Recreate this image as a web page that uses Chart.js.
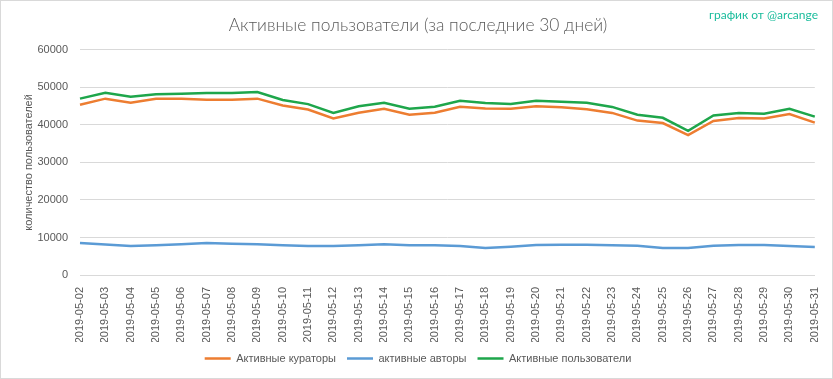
<!DOCTYPE html>
<html>
<head>
<meta charset="utf-8">
<script src="https://cdn.jsdelivr.net/npm/chart.js@4"></script>
<style>
    html, body { margin: 0; padding: 0; background: #fff; }
    #wrap { position: relative; width: 833px; height: 379px; box-sizing: border-box; border: 1px solid #d9d9d9; }
</style>
</head>
<body>
<div id="wrap"><canvas id="usersChart"></canvas></div>
<script>
// Dates on the x axis
const days = [
    '2019-05-02', '2019-05-03', '2019-05-04', '2019-05-05', '2019-05-06', '2019-05-07',
    '2019-05-08', '2019-05-09', '2019-05-10', '2019-05-11', '2019-05-12', '2019-05-13',
    '2019-05-14', '2019-05-15', '2019-05-16', '2019-05-17', '2019-05-18', '2019-05-19',
    '2019-05-20', '2019-05-21', '2019-05-22', '2019-05-23', '2019-05-24', '2019-05-25',
    '2019-05-26', '2019-05-27', '2019-05-28', '2019-05-29', '2019-05-30', '2019-05-31'
];

// Series values
const curators = [45400, 47000, 45900, 47000, 47000, 46700, 46700, 47000, 45200, 44100,
    41700, 43250, 44300, 42700, 43250, 44850, 44400, 44300, 44950, 44700,
    44150, 43200, 41150, 40500, 37300, 41050, 41850, 41700, 42900, 40600];
const authors = [8550, 8150, 7700, 7950, 8200, 8500, 8300, 8200, 7900, 7700,
    7700, 7900, 8200, 7950, 7900, 7700, 7200, 7550, 8000, 8050,
    8050, 7900, 7800, 7200, 7200, 7800, 8000, 8000, 7700, 7450];
const activeUsers = [47000, 48550, 47500, 48200, 48300, 48500, 48500, 48750, 46650, 45550,
    43200, 44950, 45900, 44300, 44850, 46450, 45850, 45550, 46450, 46200,
    45900, 44800, 42700, 41900, 38400, 42500, 43200, 43000, 44300, 42200];

const yTicks = [0, 10000, 20000, 30000, 40000, 50000, 60000];

const textColor = '#595959';
const gridColor = '#d9d9d9';
const baseFont = 'Liberation Sans, Arial, sans-serif';

// small watermark in the top right corner
const watermark = {
    id: 'watermark',
    afterDraw(chart) {
        const ctx = chart.ctx;
        ctx.save();
        ctx.font = '12px Lato, ' + baseFont;
        ctx.fillStyle = '#1abc9c';
        ctx.textAlign = 'right';
        ctx.textBaseline = 'middle';
        ctx.fillText('график от @arcange', 817, 14);
        ctx.restore();
    }
};

function makeSet(label, data, color) {
    return {
        label: label,
        data: data,
        borderColor: color,
        backgroundColor: color,
        borderWidth: 2.5,
        pointRadius: 0,
        pointHoverRadius: 0,
        tension: 0,
        fill: false
    };
}

document.addEventListener('DOMContentLoaded', function() {
    const ctx = document.getElementById('usersChart').getContext('2d');
    new Chart(ctx, {
        type: 'line',
        data: {
            labels: days,
            datasets: [
                makeSet('Активные кураторы', curators, '#ED7D31'),
                makeSet('активные авторы', authors, '#5B9BD5'),
                makeSet('Активные пользователи', activeUsers, '#1EA64B')
            ]
        },
        options: {
            responsive: true,
            maintainAspectRatio: false,
            animation: false,
            layout: { padding: { left: 17, right: 14, top: 4, bottom: 4 } },
            plugins: {
                title: {
                    display: true,
                    text: 'Активные пользователи (за последние 30 дней)',
                    color: textColor,
                    font: { family: 'Lato, ' + baseFont, size: 17.4, weight: '300' },
                    padding: { top: 10, bottom: 14 }
                },
                legend: {
                    position: 'bottom',
                    labels: {
                        color: textColor,
                        font: { family: baseFont, size: 11 },
                        usePointStyle: true,
                        pointStyle: 'line',
                        pointStyleWidth: 26,
                        boxWidth: 26,
                        padding: 11
                    }
                },
                tooltip: { enabled: false }
            },
            scales: {
                x: {
                    // room for the vertical date labels
                    afterFit: function(scale) {
                        scale.height = 67;
                    },
                    grid: { display: false },
                    border: { color: gridColor },
                    ticks: {
                        color: textColor,
                        font: { family: baseFont, size: 11 },
                        maxRotation: 90,
                        minRotation: 90,
                        autoSkip: false,
                        padding: 4
                    }
                },
                y: {
                    min: 0,
                    max: 60000,
                    afterFit: function(scale) {
                        scale.width = 62;
                    },
                    afterBuildTicks: function(scale) {
                        scale.ticks = yTicks.map(v => ({ value: v }));
                    },
                    grid: { color: gridColor, drawTicks: false },
                    border: { display: false },
                    ticks: {
                        color: textColor,
                        font: { family: baseFont, size: 11 },
                        padding: 12,
                        callback: v => String(v)
                    },
                    title: {
                        display: true,
                        text: 'количество пользователей',
                        color: textColor,
                        font: { family: baseFont, size: 11 }
                    }
                }
            }
        },
        plugins: [watermark]
    });
});
</script>
</body>
</html>
